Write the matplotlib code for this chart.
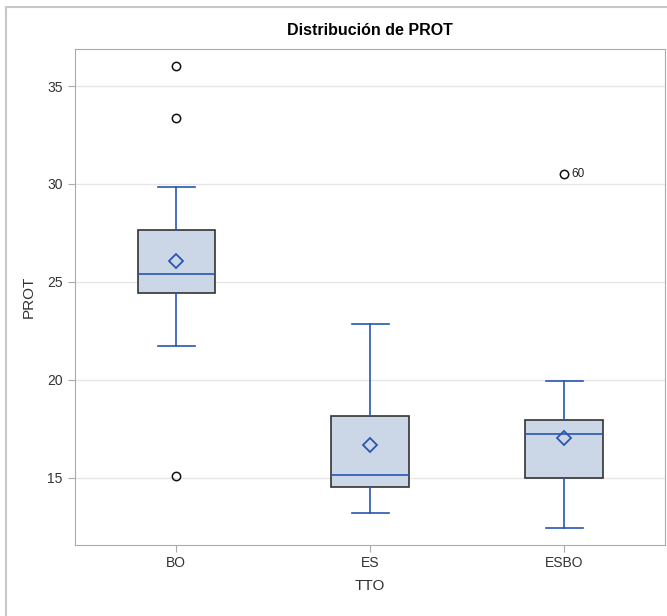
import matplotlib
matplotlib.use("Agg")
import matplotlib.pyplot as plt
from matplotlib.lines import Line2D

plt.rcParams['font.family'] = ['Liberation Sans', 'DejaVu Sans']

# group stats
groups = ['BO', 'ES', 'ESBO']
q1 = [24.46, 14.54, 15.0]
med = [25.43, 15.15, 17.25]
q3 = [27.63, 18.17, 17.97]
whislo = [21.75, 13.21, 12.44]
whishi = [29.83, 22.83, 19.96]
means = [26.05, 16.69, 17.05]
fliers = [[36.02, 33.36, 15.12], [], [30.5]]
flier_labels = [[], [], ['60']]

blue = '#2a56b0'
stats = []
for i, g in enumerate(groups):
    stats.append(dict(label=g, q1=q1[i], med=med[i], q3=q3[i], whislo=whislo[i],
                      whishi=whishi[i], mean=means[i], fliers=fliers[i]))

fig = plt.figure(figsize=(6.67, 6.16), dpi=100)
ax = fig.add_axes([0.1117, 0.116, 0.8853, 0.8045])

ax.bxp(stats, positions=range(len(groups)), widths=0.4, showmeans=True,
       patch_artist=True, zorder=3,
       boxprops=dict(facecolor='#cbd6e6', edgecolor='#333333', linewidth=1.2),
       medianprops=dict(color=blue, linewidth=1.2),
       whiskerprops=dict(color=blue, linewidth=1.2),
       capprops=dict(color=blue, linewidth=1.2),
       capwidths=0.19,
       meanprops=dict(marker='D', markerfacecolor='none', markeredgecolor=blue,
                      markersize=7, markeredgewidth=1.3),
       flierprops=dict(marker='o', markerfacecolor='none', markeredgecolor='#111111',
                       markersize=6, markeredgewidth=1.1))

for i, labs in enumerate(flier_labels):
    for v, lab in zip(fliers[i][::-1], labs):
        ax.annotate(lab, (i, v), xytext=(5, 0), textcoords='offset points',
                    va='center', fontsize=8.5, color='#222222')

ax.set_xlim(-0.525, 2.52)
ax.set_ylim(11.6, 36.89)
ax.set_yticks([15, 20, 25, 30, 35])
ax.grid(axis='y', color='#e6e6e6', linewidth=1, zorder=0)
ax.set_axisbelow(True)
for s in ax.spines.values():
    s.set_color('#a8acb0')
ax.tick_params(colors='#a8acb0', labelcolor='#333333', labelsize=10, length=5)
ax.set_xlabel('TTO', fontsize=11, color='#333333', labelpad=6)
ax.set_ylabel('PROT', fontsize=11, color='#333333', labelpad=8)
ax.set_title('Distribución de PROT', fontsize=11.5, fontweight='bold', pad=10)

# outer frame lines (top and left)
fig.add_artist(Line2D([6 / 667, 1], [1 - 6.5 / 616] * 2, color='#c8c8c8', lw=1.5))
fig.add_artist(Line2D([6 / 667] * 2, [0, 1 - 6.5 / 616], color='#c8c8c8', lw=1.5))

fig.savefig('out.png', dpi=100)
